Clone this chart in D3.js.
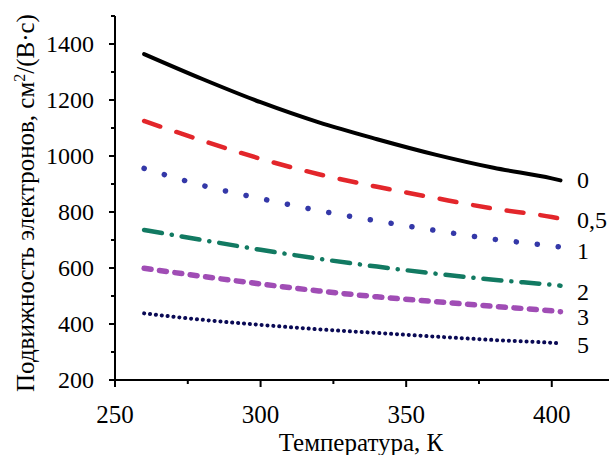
<!DOCTYPE html>
<html>
<head>
<meta charset="utf-8">
<script src="https://cdn.jsdelivr.net/npm/d3@7"></script>
<style>
  body { margin: 0; background: #fff; }
</style>
</head>
<body>
<div id="chart"></div>
<script>
var svgWidth = 609;
var svgHeight = 455;
var serif = "'Liberation Serif'";

// temperatures, K
var temps = [260, 280, 300, 320, 340, 360, 380, 400, 403];

// mobility for each curve, cm2/(V s)
var mu0   = [1364, 1275, 1192, 1120, 1060, 1005, 958, 920, 913];
var mu05  = [1125, 1055, 990, 935, 890, 850, 812, 782, 776];
var mu1   = [956, 895, 848, 805, 768, 734, 703, 679, 675];
var mu2   = [736, 700, 665, 633, 605, 580, 558, 540, 537];
var mu3   = [599, 570, 543, 518, 497, 480, 463, 447, 444];
var mu5   = [438, 415, 397, 381, 368, 355, 343, 333, 331];

var curveLabels = ["0", "0,5", "1", "2", "3", "5"];
var xTicks = [250, 300, 350, 400];
var yTicks = [200, 400, 600, 800, 1000, 1200, 1400];

var series = [
  { name: curveLabels[0], values: mu0,  color: "#000000", width: 4,   dash: null },
  { name: curveLabels[1], values: mu05, color: "#e3262b", width: 4.5, dash: "17,17" },
  { name: curveLabels[2], values: mu1,  color: "#3438a8", width: 5.5, dash: "0.1,21" },
  { name: curveLabels[3], values: mu2,  color: "#127a62", width: 4.5, dash: "18,10,0.1,10" },
  { name: curveLabels[4], values: mu3,  color: "#a04db5", width: 5.5, dash: "7,8.5" },
  { name: curveLabels[5], values: mu5,  color: "#0a0a55", width: 4,   dash: "0.1,5.8" }
];

// label vertical centres
var labelY = [180, 220, 251, 292, 317, 345];

var svg = d3.select("#chart")
  .append("svg")
  .attr("width", svgWidth)
  .attr("height", svgHeight);

var x = d3.scaleLinear().domain([250, 420]).range([115, 610]);
var y = d3.scaleLinear().domain([200, 1500]).range([380, 16]);

// x axis
var xAxis = svg.append("g").attr("transform", "translate(0,380)");
xAxis.append("line")
  .attr("x1", x(250)).attr("x2", x(420))
  .attr("stroke", "#000").attr("stroke-width", 2);
xAxis.selectAll(".xt")
  .data(d3.range(250, 420, 25))
  .enter().append("line")
  .attr("x1", d => x(d)).attr("x2", d => x(d))
  .attr("y1", 0).attr("y2", d => d % 50 === 0 ? 7 : 4)
  .attr("stroke", "#000").attr("stroke-width", 2);
xAxis.selectAll(".xl")
  .data(xTicks)
  .enter().append("text")
  .attr("x", d => x(d)).attr("y", 43)
  .attr("text-anchor", "middle")
  .style("font-family", serif)
  .style("font-size", "25px")
  .text(d => d);

// y axis
var yAxis = svg.append("g").attr("transform", `translate(${x(250)},0)`);
yAxis.append("line")
  .attr("y1", y(200)).attr("y2", y(1500))
  .attr("stroke", "#000").attr("stroke-width", 2);
yAxis.selectAll(".yt")
  .data(d3.range(200, 1501, 100))
  .enter().append("line")
  .attr("x1", d => d % 200 === 0 ? -6 : -4).attr("x2", 0)
  .attr("y1", d => y(d)).attr("y2", d => y(d))
  .attr("stroke", "#000").attr("stroke-width", 2);
yAxis.selectAll(".yl")
  .data(yTicks)
  .enter().append("text")
  .attr("x", -21).attr("y", d => y(d))
  .attr("dy", "0.34em")
  .attr("text-anchor", "end")
  .style("font-family", serif)
  .style("font-size", "24px")
  .text(d => d);

// axis titles
svg.append("text")
  .attr("x", 361).attr("y", 451)
  .attr("text-anchor", "middle")
  .style("font-family", serif)
  .style("font-size", "25px")
  .text("Температура, К");

var yTitle = svg.append("text")
  .attr("transform", "translate(34,203) rotate(-90)")
  .attr("text-anchor", "middle")
  .style("font-family", serif)
  .style("font-size", "25px");
yTitle.append("tspan").text("Подвижность электронов, см");
yTitle.append("tspan").attr("dy", -9).style("font-size", "16px").text("2");
yTitle.append("tspan").attr("dy", 9).text("/(В·с)");

// curves
var line = d3.line()
  .x((d, i) => x(temps[i]))
  .y(d => y(d))
  .curve(d3.curveMonotoneX);

svg.selectAll(".curve")
  .data(series)
  .enter().append("path")
  .attr("d", d => line(d.values))
  .attr("fill", "none")
  .attr("stroke", d => d.color)
  .attr("stroke-width", d => d.width)
  .attr("stroke-linecap", "round")
  .attr("stroke-dasharray", d => d.dash);

// curve labels
svg.selectAll(".clabel")
  .data(series)
  .enter().append("text")
  .attr("x", 577)
  .attr("y", (d, i) => labelY[i])
  .attr("dy", "0.34em")
  .style("font-family", serif)
  .style("font-size", "24px")
  .text(d => d.name);
</script>
</body>
</html>
